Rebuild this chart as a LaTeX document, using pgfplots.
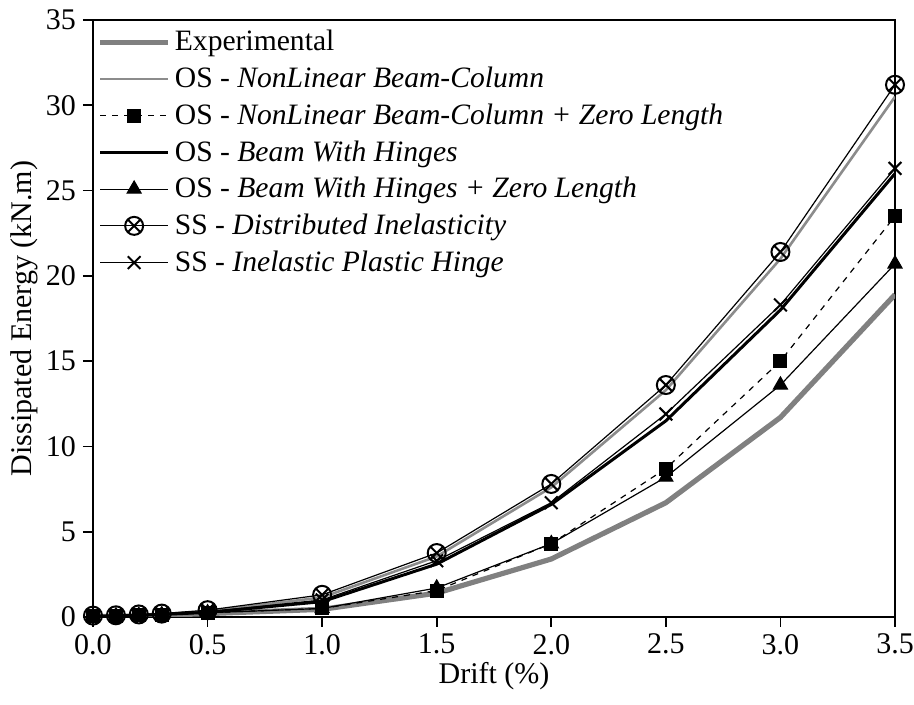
\documentclass[border=0pt]{standalone}
\usepackage{pgfplots}
\pgfplotsset{compat=1.18}
\usepackage{fontspec}
\setmainfont{Liberation Serif}
\definecolor{expgray}{HTML}{808080}
\definecolor{nlgray}{HTML}{8C8C8C}
\begin{document}
\begin{tikzpicture}
\begin{axis}[
  scale only axis,
  width=401pt, height=298.5pt,
  xmin=0, xmax=3.5, ymin=0, ymax=35,
  xtick={0,0.5,...,3.5}, ytick={0,5,...,35},
  xticklabel style={/pgf/number format/fixed, /pgf/number format/fixed zerofill, /pgf/number format/precision=1},
  /pgf/number format/assume math mode=true,
  tick align=outside, xtick pos=bottom, ytick pos=left,
  major tick length=5pt,
  tick style={black, line width=0.8pt},
  axis line style={line width=0.9pt},
  font=\fontsize{15}{17}\selectfont,
  xlabel={Drift (\%)}, ylabel={Dissipated Energy (kN.m)},
  xlabel style={yshift=3pt}, ylabel style={yshift=-3pt},
  legend style={draw=none, fill=none, at={(0,1)}, anchor=north west,
    xshift=-1pt, yshift=-1pt,
    font=\fontsize{14.8}{17}\selectfont, row sep=2.6pt},
  legend cell align=left,
  every axis legend/.append style={/tikz/every even column/.append style={column sep=5pt}},
  legend image code/.code={\draw[#1] (0cm,0cm) -- (1.2cm,0cm); \draw[#1, mark repeat=2, mark phase=2] plot coordinates {(0cm,0cm) (0.6cm,0cm) (1.2cm,0cm)};},
]
% Experimental
\addplot[expgray, line width=2.6pt, no marks] coordinates {
(0,0.02) (0.1,0.04) (0.2,0.06) (0.3,0.1) (0.5,0.2) (1.0,0.45) (1.5,1.4) (2.0,3.4) (2.5,6.7) (3.0,11.7) (3.5,18.9)};
\addlegendentry{Experimental}
% OS NL Beam-Column
\addplot[nlgray, line width=1.3pt, no marks] coordinates {
(0,0.05) (0.1,0.08) (0.2,0.12) (0.3,0.17) (0.5,0.32) (1.0,1.15) (1.5,3.55) (2.0,7.6) (2.5,13.3) (3.0,21.0) (3.5,30.5)};
\addlegendentry{OS - \textit{NonLinear Beam-Column}}
% OS NL + ZL
\addplot[black, line width=0.6pt, dashed, mark=square*, mark size=3.2pt, mark options={solid}] coordinates {
(0,0.05) (0.1,0.07) (0.2,0.1) (0.3,0.14) (0.5,0.25) (1.0,0.5) (1.5,1.55) (2.0,4.3) (2.5,8.7) (3.0,15.0) (3.5,23.5)};
\addlegendentry{OS - \textit{NonLinear Beam-Column + Zero Length}}
% OS BWH
\addplot[black, line width=1.5pt, no marks] coordinates {
(0,0.04) (0.1,0.07) (0.2,0.1) (0.3,0.15) (0.5,0.27) (1.0,0.9) (1.5,3.1) (2.0,6.6) (2.5,11.5) (3.0,18.0) (3.5,26.0)};
\addlegendentry{OS - \textit{Beam With Hinges}}
% OS BWH + ZL
\addplot[black, line width=0.6pt, mark=triangle*, mark size=4pt] coordinates {
(0,0.05) (0.1,0.07) (0.2,0.1) (0.3,0.14) (0.5,0.25) (1.0,0.5) (1.5,1.7) (2.0,4.3) (2.5,8.2) (3.0,13.6) (3.5,20.7)};
\addlegendentry{OS - \textit{Beam With Hinges + Zero Length}}
% SS DI
\addplot[black, line width=0.6pt, mark=otimes, mark size=4.5pt, mark options={line width=1pt}] coordinates {
(0,0.08) (0.1,0.1) (0.2,0.15) (0.3,0.2) (0.5,0.4) (1.0,1.3) (1.5,3.75) (2.0,7.8) (2.5,13.6) (3.0,21.4) (3.5,31.2)};
\addlegendentry{SS - \textit{Distributed Inelasticity}}
% SS IPH
\addplot[black, line width=0.6pt, mark=x, mark size=4.5pt, mark options={line width=1pt}] coordinates {
(0,0.06) (0.1,0.08) (0.2,0.12) (0.3,0.17) (0.5,0.3) (1.0,1.0) (1.5,3.3) (2.0,6.7) (2.5,11.9) (3.0,18.3) (3.5,26.3)};
\addlegendentry{SS - \textit{Inelastic Plastic Hinge}}
\end{axis}
\pgfresetboundingbox
\path ([shift={(-46.5pt,-44pt)}]current axis.south west) rectangle ([shift={(9.5pt,10pt)}]current axis.north east);
\end{tikzpicture}
\end{document}
